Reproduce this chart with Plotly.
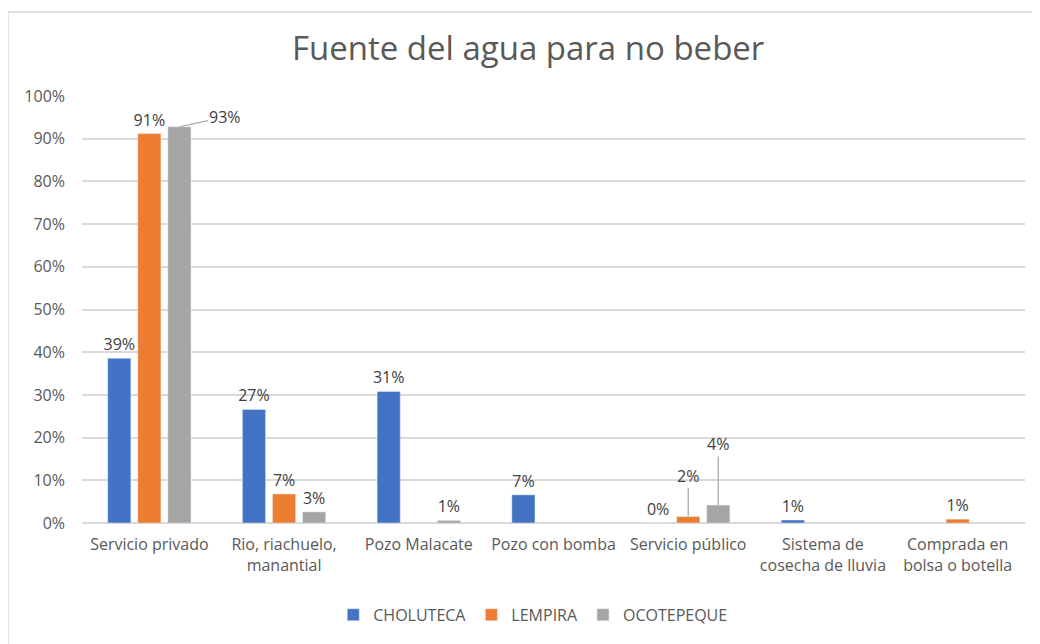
import plotly.graph_objects as go

categories = [
    "Servicio privado",
    "Rio, riachuelo,<br>manantial",
    "Pozo Malacate",
    "Pozo con bomba",
    "Servicio público",
    "Sistema de<br>cosecha de lluvia",
    "Comprada en<br>bolsa o botella",
]
choluteca = [38.6, 26.6, 30.8, 6.6, 0.0, 0.7, None]
lempira = [91.2, 6.8, None, None, 1.5, None, 0.9]
ocotepeque = [92.8, 2.6, 0.6, None, 4.2, None, None]
y_ticks = [0, 10, 20, 30, 40, 50, 60, 70, 80, 90, 100]

FONT = "'Open Sans', sans-serif"
GRID = "#d9d9d9"
FS = 16


def labels(vals, skip=()):
    out = []
    for i, v in enumerate(vals):
        if v is None or i in skip:
            out.append("")
        else:
            out.append(f"{v:.0f}%")
    return out


fig = go.Figure()
series = [
    ("CHOLUTECA", choluteca, "#4472C4", ()),
    ("LEMPIRA", lempira, "#ED7D31", (4,)),
    ("OCOTEPEQUE", ocotepeque, "#A5A5A5", (0, 4)),
]
for name, vals, color, skip in series:
    fig.add_trace(go.Bar(
        name=name,
        x=categories,
        y=vals,
        marker_color=color,
        text=labels(vals, skip),
        textposition="outside",
        constraintext="none",
        textfont=dict(size=FS, color="#404040"),
        cliponaxis=False,
    ))

# labels pulled away from the bar with a leader line
leader = [
    (categories[0], ocotepeque[0], 30, 46, -10),
    (categories[4], lempira[4], 0, 0, -41),
    (categories[4], ocotepeque[4], 30, 0, -61),
]
for cat, v, shift, ax, ay in leader:
    fig.add_annotation(
        x=cat, y=v, xshift=shift, text=f"{v:.0f}%",
        showarrow=True, arrowhead=0, arrowwidth=1.2, arrowcolor="#a6a6a6",
        ax=ax, ay=ay, font=dict(size=FS, color="#404040"),
    )

# outer chart border
fig.add_shape(
    type="rect", xref="paper", yref="paper",
    x0=-0.0785, x1=1.03, y0=-0.35, y1=1.197,
    line=dict(color=GRID, width=1.5), fillcolor="rgba(0,0,0,0)",
    layer="below",
)

fig.update_layout(
    width=1032,
    height=636,
    paper_bgcolor="white",
    plot_bgcolor="white",
    font=dict(family=FONT, size=FS, color="#595959"),
    title=dict(
        text="Fuente del agua para no beber",
        x=0.504, xanchor="center", y=0.937, yanchor="middle",
        font=dict(size=33, color="#595959"),
    ),
    barmode="group",
    bargap=0.33,
    bargroupgap=0.23,
    margin=dict(l=74, r=15, t=88, b=121),
    showlegend=True,
    legend=dict(
        orientation="h", x=0.478, xanchor="center", y=-0.215, yanchor="middle",
        font=dict(size=FS, color="#595959"), itemwidth=30,
    ),
    xaxis=dict(
        showgrid=False, ticks="", showline=False,
        tickfont=dict(size=FS), ticklabelstandoff=10,
    ),
    yaxis=dict(
        range=[0, 100],
        tickvals=y_ticks,
        ticktext=[f"{t}%" for t in y_ticks],
        showgrid=True, gridcolor=GRID, gridwidth=1.5,
        zeroline=True, zerolinecolor=GRID, zerolinewidth=1.5,
        ticks="", ticklabelstandoff=16, tickfont=dict(size=FS),
    ),
)

fig.write_html("out.html")
